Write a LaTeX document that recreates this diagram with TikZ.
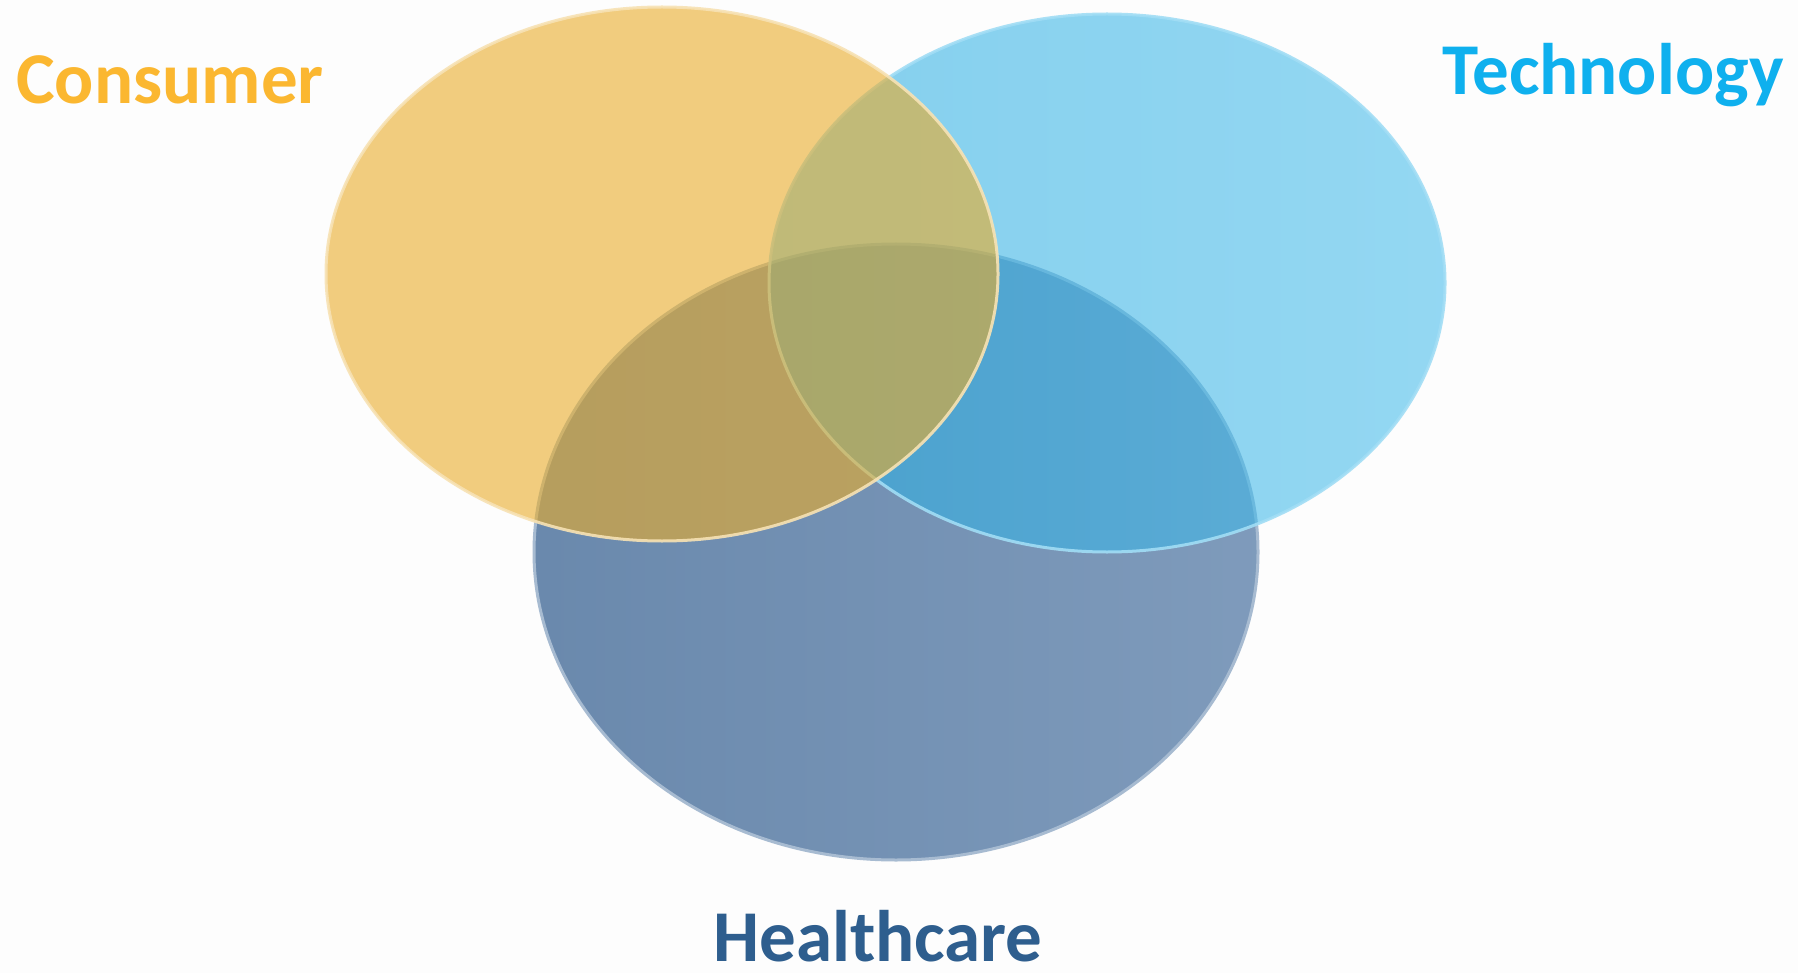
\documentclass[tikz,border=0pt]{standalone}
\usepackage{fontspec}
\setmainfont{Carlito}
\usetikzlibrary{shapes.geometric}

\definecolor{consfill}{RGB}{233,172,42}
\definecolor{techfill}{RGB}{47,180,233}
\definecolor{healthfill}{RGB}{109,141,178}
\definecolor{constext}{RGB}{251,183,48}
\definecolor{techtext}{RGB}{15,176,238}
\definecolor{healthtext}{RGB}{46,94,142}
\definecolor{bgcol}{RGB}{253,253,253}

\begin{document}
\begin{tikzpicture}
            [x=1pt, y=-1pt,
            consumer/.style={ellipse, inner sep=0pt, minimum width=672pt, minimum height=534pt, fill=consfill, fill opacity=.6, draw=consfill!35!white, line width=3pt, draw opacity=.9},
            tech/.style={ellipse, inner sep=0pt, minimum width=676pt, minimum height=538pt, left color=techfill!97!black, right color=techfill!88!white, fill opacity=.58, draw=techfill!45!white, line width=3pt, draw opacity=.9},
            health/.style={ellipse, inner sep=0pt, minimum width=724pt, minimum height=616pt, left color=healthfill!97!black, right color=healthfill!88!white, draw=healthfill!60!white, line width=3pt},
            setname/.style={anchor=base, inner sep=0pt, font=\fontsize{73}{80}\selectfont\bfseries}]

            \useasboundingbox (0,0) rectangle (1798,973);
            \fill[bgcol] (0,0) rectangle (1798,973);

            \node[health] (h) at (896,552) {};
            \node[tech] (t) at (1107,283) {};
            \node[consumer] (c) at (662,274) {};

            \node[setname, text=constext] (cl) at (170,104) {Consumer};
            \node[setname, text=techtext] (tl) at (1613,95) {Technology};
            \node[setname, text=healthtext] (hl) at (878,961) {Healthcare};

        \end{tikzpicture}
\end{document}
